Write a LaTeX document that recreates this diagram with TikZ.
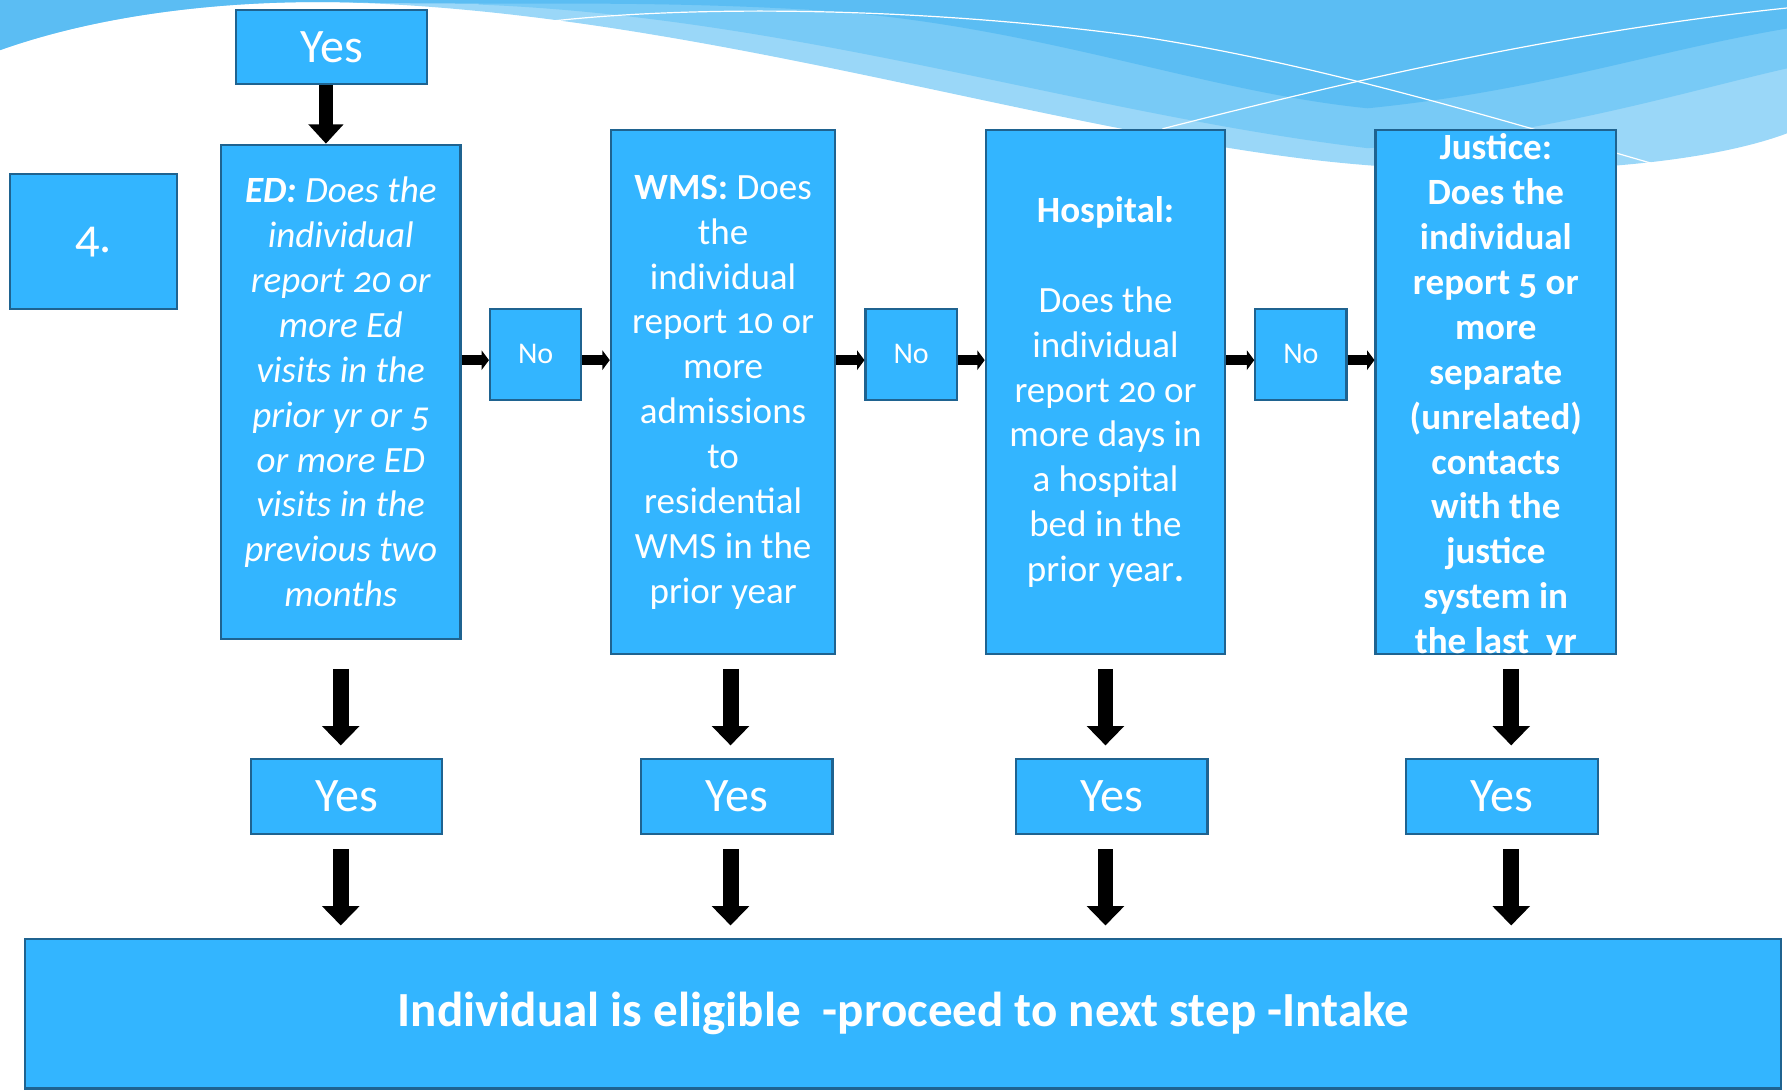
\documentclass[tikz,border=0pt]{standalone}
\usepackage{fontspec}
\setmainfont{Carlito}[Numbers=OldStyle]
\usetikzlibrary{arrows.meta}

\definecolor{boxblue}{HTML}{33B5FF}
\definecolor{edgeblue}{HTML}{1F6390}
\definecolor{wavedark}{HTML}{5BBDF3}
\definecolor{wavemid}{HTML}{78CAF6}
\definecolor{wavelight}{HTML}{9AD7F8}

\tikzset{
  box/.style={draw=edgeblue, line width=1.1pt, fill=boxblue, text=white, inner sep=0pt},
  qtext/.style={text=white, align=center, font=\fontsize{18.5}{22.4}\selectfont},
  bigarrow/.style={line width=2.8mm, -{Triangle[width=6.4mm,length=3.4mm]}},
  smallarrow/.style={line width=1.7mm, -{Triangle[width=3.4mm,length=1.3mm]}},
}

\begin{document}
\begin{tikzpicture}[x=0.2mm,y=-0.2mm]
  \useasboundingbox (0,0) rectangle (1568,956);
  % waves at the top
  \fill[wavelight] (0,0) -- (0,44) .. controls (90,12) and (200,0) .. (300,2)
    .. controls (600,10) and (900,110) .. (1150,140)
    .. controls (1300,158) and (1480,150) .. (1568,117) -- (1568,0) -- cycle;
  \fill[wavemid] (420,0) -- (420,4) .. controls (700,15) and (950,100) .. (1200,130)
    .. controls (1350,120) and (1480,80) .. (1568,60) -- (1568,0) -- cycle;
  \fill[wavedark] (0,0) -- (0,44) .. controls (90,12) and (200,0) .. (300,2)
    .. controls (450,5) and (550,0) .. (700,8)
    .. controls (900,18) and (1050,80) .. (1200,95)
    .. controls (1350,80) and (1450,45) .. (1568,25) -- (1568,0) -- cycle;
  \draw[white,line width=0.6pt] (480,19) .. controls (600,5) and (800,5) .. (1000,32)
    .. controls (1150,55) and (1300,100) .. (1455,145);
  \draw[white,line width=0.6pt] (1020,113) .. controls (1150,80) and (1350,30) .. (1568,7);

  % boxes
  \node[box, minimum width=33.6mm, minimum height=13mm, font=\fontsize{24}{28}\selectfont] (yes0) at (291,41.5) {Yes};
  \node[box, minimum width=29.2mm, minimum height=23.6mm, font=\fontsize{24}{28}\selectfont] (four) at (82,212) {4.};
  \node[box, qtext, minimum width=42mm, minimum height=86.8mm, font=\fontsize{18.5}{22.4}\selectfont\itshape] (ed) at (299,344)
    {\textbf{ED:} Does the\\ individual\\ report 20 or\\ more Ed\\ visits in the\\ prior yr or 5\\ or more ED\\ visits in the\\ previous two\\ months};
  \node[box, qtext, minimum width=39.4mm, minimum height=92mm] (wms) at (634.5,344)
    {\textbf{WMS:} Does\\ the\\ individual\\ report 10 or\\ more\\ admissions\\ to\\ residential\\ WMS in the\\ prior year};
  \node[box, qtext, minimum width=42mm, minimum height=92mm] (hosp) at (970,344)
    {\textbf{Hospital:}\\[22.4pt] Does the\\ individual\\ report 20 or\\ more days in\\ a hospital\\ bed in the\\ prior year\textbf{.}};
  \node[box, minimum width=42.2mm, minimum height=92mm] (jus) at (1312.5,344) {};
  \node[qtext, font=\fontsize{18.5}{22.4}\selectfont\bfseries] (justext) at ([yshift=-0.8mm]jus.center)
    {Justice:\\ Does the\\ individual\\ report 5 or\\ more\\ separate\\ (unrelated)\\ contacts\\ with the\\ justice\\ system in\\ the last\ \ yr};

  \node[box, minimum width=16mm, minimum height=16mm, font=\fontsize{15}{18}\selectfont] (no1) at (470,311) {No};
  \node[box, minimum width=16mm, minimum height=16mm, font=\fontsize{15}{18}\selectfont] (no2) at (799.5,311) {No};
  \node[box, minimum width=16mm, minimum height=16mm, font=\fontsize{15}{18}\selectfont] (no3) at (1141.5,311) {No};

  \node[box, minimum width=33.6mm, minimum height=13.2mm, font=\fontsize{24}{28}\selectfont] (yes1) at (304,699) {Yes};
  \node[box, minimum width=33.6mm, minimum height=13.2mm, font=\fontsize{24}{28}\selectfont] (yes2) at (646.5,699) {Yes};
  \node[box, minimum width=33.6mm, minimum height=13.2mm, font=\fontsize{24}{28}\selectfont] (yes3) at (975.5,699) {Yes};
  \node[box, minimum width=33.6mm, minimum height=13.2mm, font=\fontsize{24}{28}\selectfont] (yes4) at (1318,699) {Yes};

  \node[box, minimum width=308.2mm, minimum height=26.2mm, font=\fontsize{24.5}{29}\selectfont\bfseries] (final) at (792.5,889.5)
    {Individual is eligible\ \ -proceed to next step -Intake};

  % arrows
  \draw[line width=2.4mm, -{Triangle[width=6mm,length=3.4mm]}] ([xshift=-1mm]yes0.south) -- ([xshift=-1mm]yes0.south |- ed.north);
  \draw[smallarrow] ([yshift=-1mm]ed.east |- no1.center) -- ([yshift=-1mm]no1.west);
  \draw[smallarrow] ([yshift=-1mm]no1.east) -- ([yshift=-1mm]wms.west |- no1.center);
  \draw[smallarrow] ([yshift=-1mm]wms.east |- no2.center) -- ([yshift=-1mm]no2.west);
  \draw[smallarrow] ([yshift=-1mm]no2.east) -- ([yshift=-1mm]hosp.west |- no2.center);
  \draw[smallarrow] ([yshift=-1mm]hosp.east |- no3.center) -- ([yshift=-1mm]no3.west);
  \draw[smallarrow] ([yshift=-1mm]no3.east) -- ([yshift=-1mm]jus.west |- no3.center);

  \draw[bigarrow, shorten <=5mm, shorten >=2.2mm] (ed.south) -- (ed.south |- yes1.north);
  \draw[bigarrow, shorten <=2.4mm, shorten >=2.2mm] ([xshift=1.3mm]wms.south) -- ([xshift=1.3mm]wms.south |- yes2.north);
  \draw[bigarrow, shorten <=2.4mm, shorten >=2.2mm] (hosp.south) -- (hosp.south |- yes3.north);
  \draw[bigarrow, shorten <=2.4mm, shorten >=2.2mm] ([xshift=2.7mm]jus.south) -- ([xshift=2.7mm]jus.south |- yes4.north);

  \draw[bigarrow, shorten <=2.4mm, shorten >=2.2mm] (ed.south |- yes1.south) -- (ed.south |- final.north);
  \draw[bigarrow, shorten <=2.4mm, shorten >=2.2mm] ([xshift=1.3mm]wms.south |- yes2.south) -- ([xshift=1.3mm]wms.south |- final.north);
  \draw[bigarrow, shorten <=2.4mm, shorten >=2.2mm] (hosp.south |- yes3.south) -- (hosp.south |- final.north);
  \draw[bigarrow, shorten <=2.4mm, shorten >=2.2mm] ([xshift=2.7mm]jus.south |- yes4.south) -- ([xshift=2.7mm]jus.south |- final.north);
\end{tikzpicture}
\end{document}
